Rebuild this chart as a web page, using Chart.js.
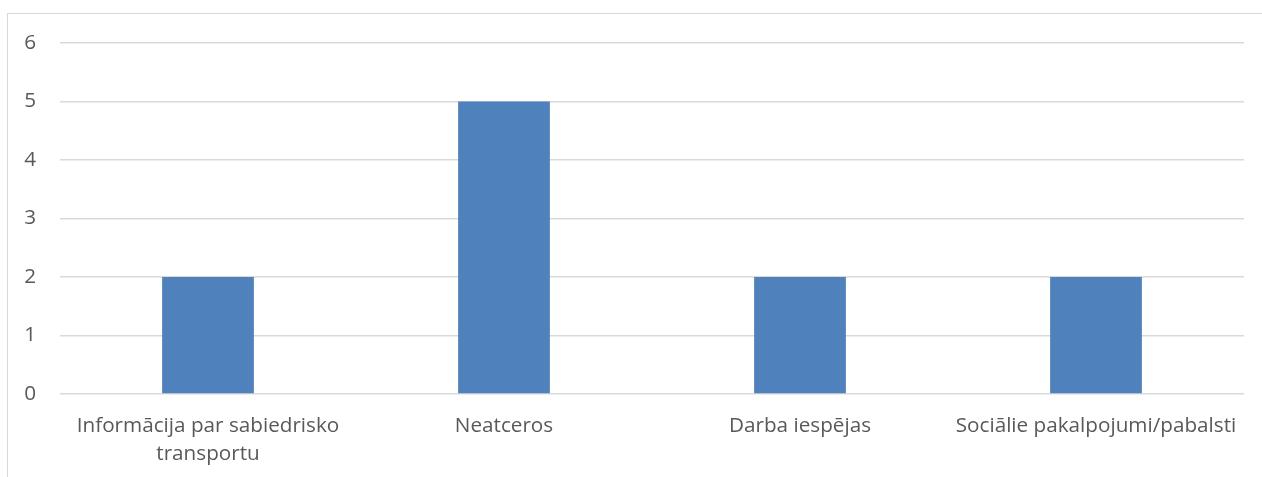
<!DOCTYPE html>
<html>
<head>
<meta charset="utf-8">
<script src="https://cdn.jsdelivr.net/npm/chart.js@4.4.1/dist/chart.umd.min.js"></script>
<style>
    html, body { margin: 0; padding: 0; background: #fff; overflow: hidden; }
    #wrap { position: relative; width: 1262px; height: 477px; }
    #frame {
        position: absolute; left: 7px; top: 13px; width: 1262px; height: 477px;
        border-left: 1.5px solid #d9d9d9; border-top: 1.5px solid #d9d9d9;
    }
    #chart { position: absolute; left: 0; top: 0; }
</style>
</head>
<body>
<div id="wrap">
    <div id="frame"></div>
    <canvas id="chart" width="1262" height="477"></canvas>
</div>
<script>
    // Responses per topic
    var categories = [
        ["Informācija par sabiedrisko", "transportu"],
        "Neatceros",
        "Darba iespējas",
        "Sociālie pakalpojumi/pabalsti"
    ];
    var counts = [2, 5, 2, 2];
    var yTicks = [0, 1, 2, 3, 4, 5, 6];

    var textColor = "#595959";
    var gridColor = "#d9d9d9";
    var font = { family: "'Open Sans', sans-serif", size: 20.7 };

    new Chart(document.getElementById("chart"), {
        type: "bar",
        data: {
            labels: categories,
            datasets: [{
                data: counts,
                backgroundColor: "#4F81BD",
                barPercentage: 0.31,
                categoryPercentage: 1.0
            }]
        },
        options: {
            responsive: false,
            animation: false,
            layout: { padding: { top: 43, right: 18, left: 0, bottom: 0 } },
            plugins: { legend: { display: false }, tooltip: { enabled: false } },
            scales: {
                x: {
                    grid: { display: false, drawTicks: false },
                    border: { display: false },
                    ticks: {
                        color: textColor,
                        font: { family: font.family, size: font.size, lineHeight: 1.36 },
                        padding: 18,
                        maxRotation: 0,
                        autoSkip: false
                    },
                    afterFit: function (scale) { scale.height = 83; }
                },
                y: {
                    min: 0,
                    max: 6,
                    afterBuildTicks: function (scale) {
                        scale.ticks = yTicks.map(function (v) { return { value: v }; });
                    },
                    grid: { color: gridColor, lineWidth: 1.5, drawTicks: false },
                    border: { display: false },
                    ticks: { color: textColor, font: font, padding: 24 },
                    afterFit: function (scale) { scale.width = 60; }
                }
            }
        }
    });
</script>
</body>
</html>
